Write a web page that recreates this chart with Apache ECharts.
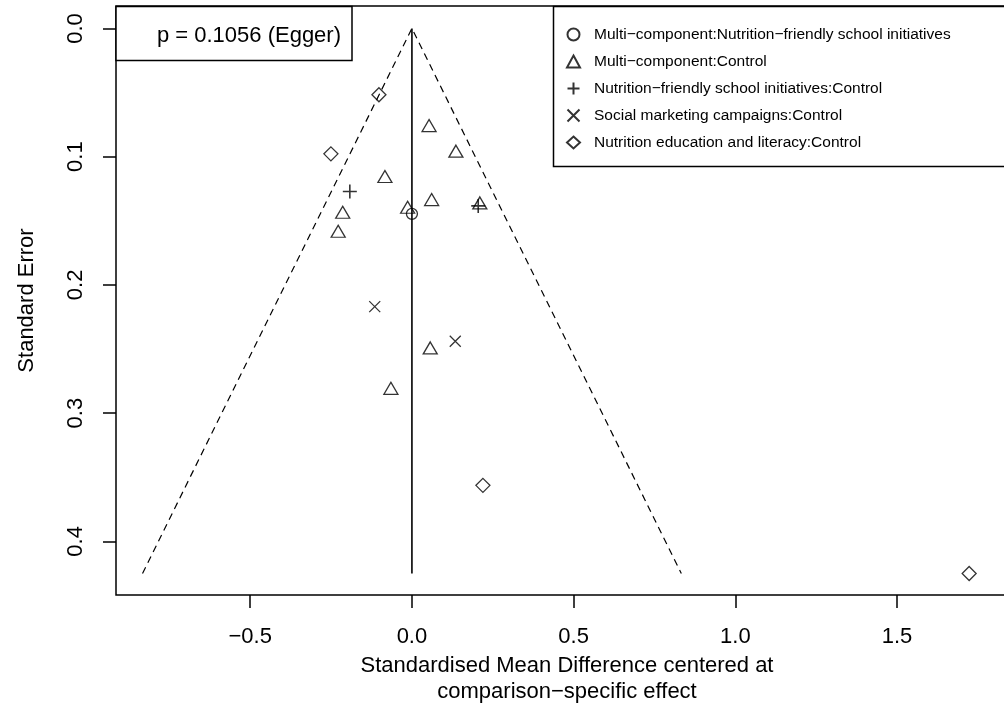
<!DOCTYPE html>
<html>
<head>
<meta charset="utf-8">
<script src="https://cdn.jsdelivr.net/npm/echarts@6/dist/echarts.min.js"></script>
<style>
html,body{margin:0;padding:0;background:#fff;}
#chart{width:1004px;height:705px;}
</style>
</head>
<body>
<div id="chart"></div>
<script>
// ---- data ----
const seriesNames = [
  "Multi\u2212component:Nutrition\u2212friendly school initiatives",
  "Multi\u2212component:Control",
  "Nutrition\u2212friendly school initiatives:Control",
  "Social marketing campaigns:Control",
  "Nutrition education and literacy:Control"
];
// [effect, standard error]
const circlePts = [[0.0, 0.1446]];
const trianglePts = [
  [0.053, 0.0773], [0.136, 0.0973], [-0.0835, 0.117], [0.061, 0.135],
  [-0.0133, 0.141], [-0.214, 0.1449], [-0.228, 0.1597], [0.210, 0.1376],
  [0.0566, 0.2507], [-0.065, 0.2822]
];
const plusPts = [[-0.192, 0.1272], [0.205, 0.1384]];
const crossPts = [[-0.115, 0.2169], [0.134, 0.2439]];
const diamondPts = [[-0.102, 0.0517], [-0.2505, 0.0978], [0.2195, 0.3563], [1.723, 0.425]];
// funnel (pseudo 95% limits) and reference line
const funnelX = [-0.833, 0, 0.833];
const funnelY = [0.425, 0, 0.425];
const refX = [0, 0];
const refY = [0, 0.425];
const xTicks = [-0.5, 0, 0.5, 1.0, 1.5];
const yTicks = [0, 0.1, 0.2, 0.3, 0.4];
const eggerText = "p = 0.1056 (Egger)";
const xTitle = "Standardised Mean Difference centered at\ncomparison\u2212specific effect";
const yTitle = "Standard Error";

const FONT = "Liberation Sans, Arial, Helvetica, sans-serif";
const fmt = v => { const s = Number(v).toFixed(1); return s.replace('-', '\u2212'); };
const hollow = {color: 'transparent', borderColor: '#000', borderWidth: 1.3};

const chart = echarts.init(document.getElementById('chart'), null, {renderer: 'canvas'});
chart.setOption({
  animation: false,
  backgroundColor: '#fff',
  grid: {left: 116, top: 6, right: -14, bottom: 110, outerBoundsMode: 'none', containLabel: false,
         show: true, borderColor: '#000', borderWidth: 1.5, backgroundColor: 'transparent'},
  xAxis: {
    type: 'value', min: -0.915, max: 1.874,
    axisLine: {show: false, onZero: false},
    splitLine: {show: false},
    axisTick: {show: true, length: 13, lineStyle: {color: '#000', width: 1.5}, customValues: xTicks},
    axisLabel: {customValues: xTicks, formatter: fmt, fontSize: 22, fontFamily: FONT, color: '#000', margin: 31},
    name: xTitle, nameLocation: 'middle', nameGap: 50,
    nameTextStyle: {fontSize: 22, fontFamily: FONT, color: '#000', lineHeight: 26}
  },
  yAxis: {
    type: 'value', inverse: true, min: -0.0175, max: 0.4418,
    axisLine: {show: false, onZero: false},
    splitLine: {show: false},
    axisTick: {show: true, length: 13, lineStyle: {color: '#000', width: 1.5}, customValues: yTicks},
    axisLabel: {customValues: yTicks, formatter: fmt, fontSize: 22, fontFamily: FONT, color: '#000', margin: 29, rotate: 90},
    name: yTitle, nameLocation: 'middle', nameGap: 78, nameRotate: 90,
    nameTextStyle: {fontSize: 22, fontFamily: FONT, color: '#000'}
  },
  legend: {
    orient: 'vertical', left: 561, top: 21.5, itemWidth: 13, itemHeight: 12, itemGap: 11,
    textStyle: {fontSize: 15.5, fontFamily: FONT, color: '#000', padding: [0, 0, 0, 9]},
    data: seriesNames
  },
  graphic: [
    {type: 'rect', z: 3, shape: {x: 116, y: 6.5, width: 236, height: 54},
     style: {fill: '#fff', stroke: '#000', lineWidth: 1.5}},
    {type: 'text', z: 4, x: 341, y: 36,
     style: {text: eggerText, font: '22px ' + FONT, fill: '#000', textAlign: 'right', textVerticalAlign: 'middle'}},
    {type: 'rect', z: 3, shape: {x: 553.5, y: 6.5, width: 480, height: 160},
     style: {fill: '#fff', stroke: '#000', lineWidth: 1.5}}
  ],
  series: [
    {type: 'line', data: funnelX.map((x, i) => [x, funnelY[i]]), symbol: 'none', silent: true,
     lineStyle: {color: '#000', width: 1.2, type: [7, 5]}, z: 1},
    {type: 'line', data: refX.map((x, i) => [x, refY[i]]), symbol: 'none', silent: true,
     lineStyle: {color: '#000', width: 1.6}, z: 1},
    {name: seriesNames[0], type: 'scatter', data: circlePts, symbol: 'circle', symbolSize: 11, itemStyle: hollow, z: 2},
    {name: seriesNames[1], type: 'scatter', data: trianglePts, symbol: 'triangle', symbolSize: [14, 12], symbolOffset: [0, -2], itemStyle: hollow, z: 2},
    {name: seriesNames[2], type: 'scatter', data: plusPts, symbol: 'path://M0,7H14M7,0V14', symbolSize: 14, itemStyle: {color: 'transparent', borderColor: '#000', borderWidth: 1.6}, z: 2},
    {name: seriesNames[3], type: 'scatter', data: crossPts, symbol: 'path://M0,0L10,10M10,0L0,10', symbolSize: 11, itemStyle: hollow, z: 2},
    {name: seriesNames[4], type: 'scatter', data: diamondPts, symbol: 'diamond', symbolSize: [14, 14], itemStyle: hollow, z: 2}
  ]
});
</script>
</body>
</html>
